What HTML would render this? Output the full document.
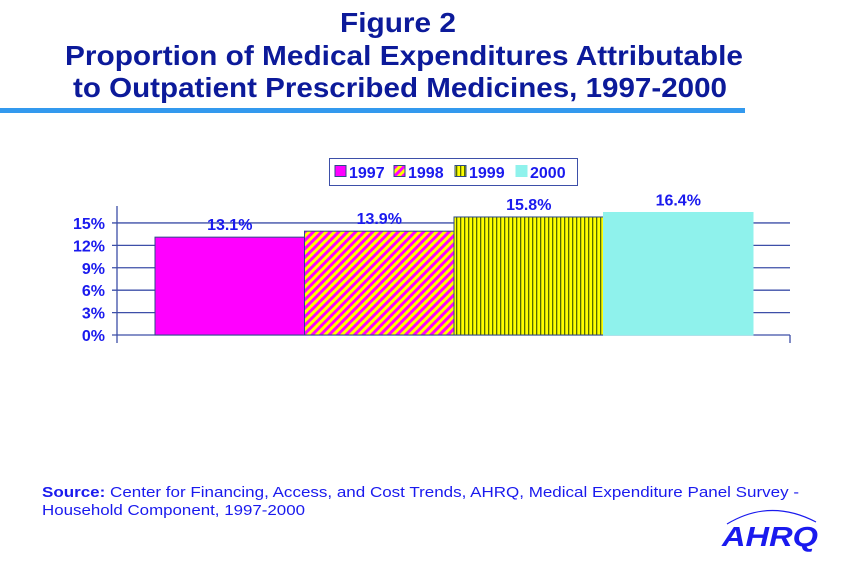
<!DOCTYPE html>
<html><head><meta charset="utf-8"><style>
html,body{margin:0;padding:0;background:#fff;}
svg{display:block;font-family:"Liberation Sans",Arial,sans-serif;}
</style></head><body>
<svg width="853" height="569" viewBox="0 0 853 569">
<defs>
<pattern id="diag" patternUnits="userSpaceOnUse" width="6" height="6" patternTransform="rotate(45)">
<rect width="6" height="6" fill="#ffff00"/><rect width="3" height="6" fill="#ff00ff"/>
</pattern>
<pattern id="vert" patternUnits="userSpaceOnUse" width="4" height="4">
<rect width="4" height="4" fill="#ffff00"/><rect width="1.3" height="4" fill="#556b00"/>
</pattern>
</defs>
<g fill="#0c1a9a" font-weight="bold" text-anchor="middle">
<text x="398" y="32" font-size="28" textLength="116" lengthAdjust="spacingAndGlyphs">Figure 2</text>
<text x="404" y="65" font-size="28" textLength="678" lengthAdjust="spacingAndGlyphs">Proportion of Medical Expenditures Attributable</text>
<text x="400" y="97" font-size="28" textLength="654" lengthAdjust="spacingAndGlyphs">to Outpatient Prescribed Medicines, 1997-2000</text>
</g>
<rect x="0" y="108" width="745" height="5" fill="#3399ee"/>
<g>
<rect x="329.5" y="158.5" width="248" height="27" fill="#fff" stroke="#3d4fa8"/>
</g>
<g id="legend-items"></g>
<g id="grid"></g>
<g id="bars"></g>
<g id="labels"></g>
<text x="42" y="497" font-size="15" fill="#1a1aee" textLength="757" lengthAdjust="spacingAndGlyphs"><tspan font-weight="bold">Source:</tspan> Center for Financing, Access, and Cost Trends, AHRQ, Medical Expenditure Panel Survey -</text>
<text x="42" y="515" font-size="15" fill="#1a1aee" textLength="263" lengthAdjust="spacingAndGlyphs">Household Component, 1997-2000</text>
<g>
<path d="M727 524 Q770 498 816 522" fill="none" stroke="#1a1aee" stroke-width="1.2"/>
<text x="770" y="546" font-size="28" font-weight="bold" font-style="italic" fill="#1a1aee" text-anchor="middle" textLength="96" lengthAdjust="spacingAndGlyphs">AHRQ</text>
</g>
</svg>
<script>
const categories = ["1997","1998","1999","2000"];
const values = [13.1, 13.9, 15.8, 16.4];
const valueLabels = ["13.1%","13.9%","15.8%","16.4%"];
const yTicks = [0,3,6,9,12,15];
const fills = ["#ff00ff","url(#diag)","url(#vert)","#8ff2ec"];
const NS="http://www.w3.org/2000/svg";
const x0=117, x1=790, y0=335, pxPer=7.47;
const barStart=155, barW=149.5;
function yPos(v){return y0 - v*pxPer;}
function xPos(i){return barStart + i*barW;}
function mk(tag,attrs,parent){const e=document.createElementNS(NS,tag);for(const k in attrs)e.setAttribute(k,attrs[k]);parent.appendChild(e);return e;}
const grid=document.getElementById('grid');
yTicks.forEach(t=>{
  const y=yPos(t);
  const l=mk('line',{x1:x0-5,x2:x1,y1:y,y2:y,stroke:'#3d4fa8','stroke-width':1.3},grid);
  
  
  const tx=mk('text',{x:105,y:y+6,'text-anchor':'end','font-size':16,'font-weight':'bold',fill:'#1a1aee'},grid);
  tx.textContent=t+'%';
  
  
});
const ax=mk('line',{x1:x0,x2:x0,y1:206,y2:343,stroke:'#3d4fa8','stroke-width':1.3},grid);


const rt=mk('line',{x1:x1,x2:x1,y1:y0,y2:343,stroke:'#3d4fa8','stroke-width':1.3},grid);


const bars=document.getElementById('bars'), labels=document.getElementById('labels');
values.forEach((v,i)=>{
  const top=yPos(v);
  const r=mk('rect',{x:xPos(i),y:top,width:barW,height:y0-top,fill:fills[i],stroke:i==3?'#8ff2ec':'#2e4a8a','stroke-width':1},bars);
  
  
  const t=mk('text',{x:xPos(i)+barW/2,y:top-7,'text-anchor':'middle','font-size':16,'font-weight':'bold',fill:'#1a1aee'},labels);
  t.textContent=valueLabels[i];
  
  
});
const leg=document.getElementById('legend-items');
const legX=[335,394,455,516];
categories.forEach((c,i)=>{
  const s=mk('rect',{x:legX[i],y:165.5,width:11,height:11,fill:fills[i],stroke:i==3?'#8ff2ec':'#2e4a8a'},leg);
  
  
  const t=mk('text',{x:legX[i]+14,y:178,'font-size':16,'font-weight':'bold',fill:'#1a1aee'},leg);
  t.textContent=c;
  
  
});
</script>
</body></html>
